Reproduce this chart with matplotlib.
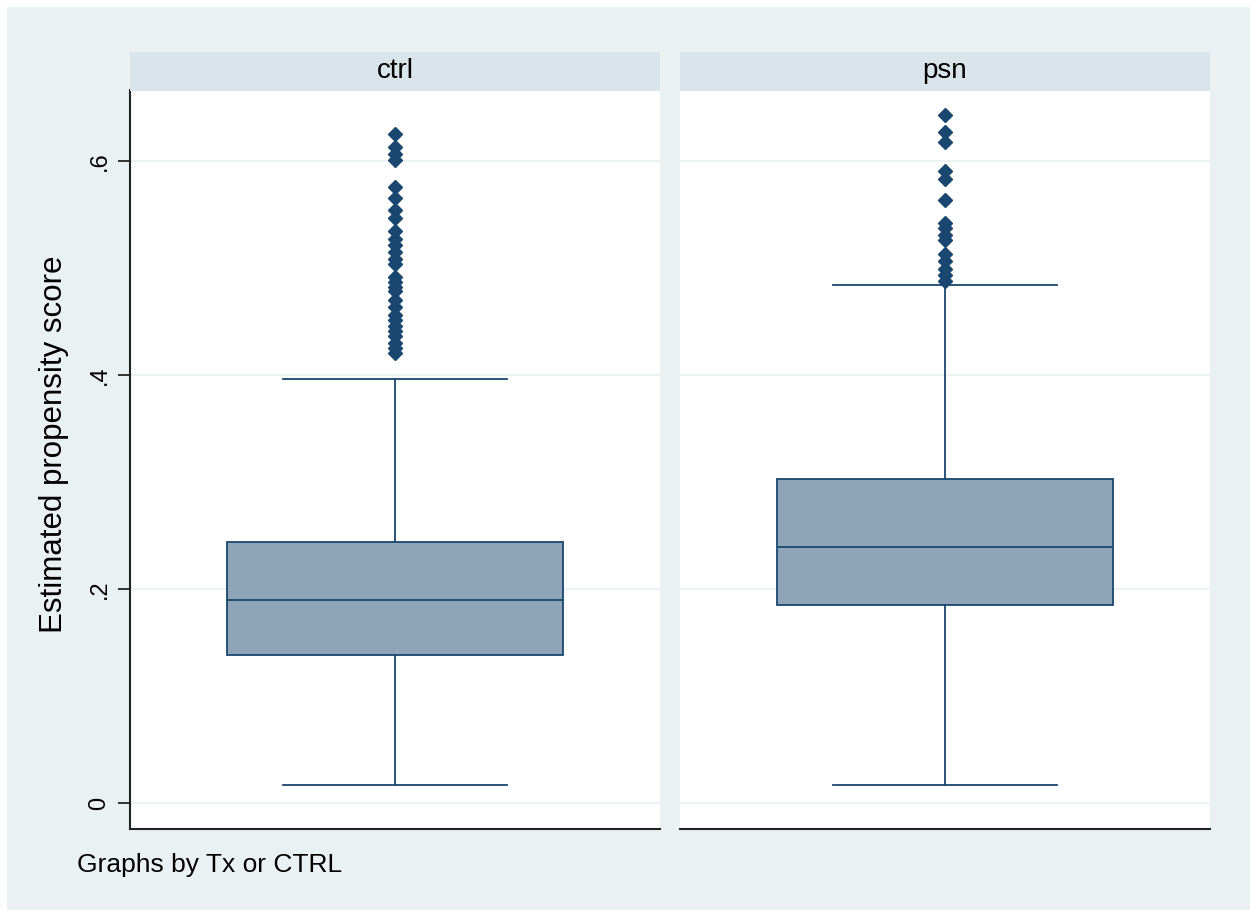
import matplotlib
matplotlib.use("Agg")
import matplotlib.pyplot as plt
from matplotlib.patches import Rectangle

plt.rcParams['font.family'] = ['Liberation Sans', 'DejaVu Sans']

# values
groups = ['ctrl', 'psn']
whisker_low = [0.017, 0.017]
q1 = [0.138, 0.185]
medians = [0.190, 0.239]
q3 = [0.244, 0.303]
whisker_high = [0.396, 0.484]
outliers_ctrl = [0.625, 0.613, 0.606, 0.601, 0.575, 0.565, 0.554, 0.546, 0.534,
                 0.527, 0.521, 0.515, 0.508, 0.503, 0.491, 0.487, 0.482, 0.478,
                 0.470, 0.463, 0.456, 0.451, 0.446, 0.441, 0.436, 0.430, 0.425,
                 0.420]
outliers_psn = [0.643, 0.627, 0.617, 0.590, 0.583, 0.563, 0.542, 0.537, 0.531,
                0.526, 0.513, 0.506, 0.499, 0.493, 0.488]
outliers = [outliers_ctrl, outliers_psn]
yticks = [0, 0.2, 0.4, 0.6]
ytick_labels = ['0', '.2', '.4', '.6']

bg = '#EAF1F3'
strip_col = '#D9E5EB'
navy = '#1A476F'
box_fill = '#8EA4B9'

fig = plt.figure(figsize=(12.5, 9.11), dpi=100)
fig.patch.set_facecolor('white')
fig.patches.append(Rectangle((7 / 1250, 0.0011), 1 - 7 / 1250, 1 - 7 / 911 - 0.0011,
                             transform=fig.transFigure, facecolor=bg,
                             edgecolor='none', zorder=-10))

ax_bottom = 1 - 829 / 911
ax_height = (829 - 90) / 911
panels = [(130, 660), (680, 1210)]

for i, (x0, x1) in enumerate(panels):
    ax = fig.add_axes([x0 / 1250, ax_bottom, (x1 - x0) / 1250, ax_height])
    ax.set_facecolor('white')
    stats = [dict(whislo=whisker_low[i], q1=q1[i], med=medians[i], q3=q3[i],
                  whishi=whisker_high[i], fliers=outliers[i])]
    ax.bxp(stats, positions=[0], widths=0.634, patch_artist=True,
           showcaps=True,
           boxprops=dict(facecolor=box_fill, edgecolor=navy, linewidth=1.3),
           medianprops=dict(color=navy, linewidth=1.3),
           whiskerprops=dict(color=navy, linewidth=1.3),
           capprops=dict(color=navy, linewidth=1.3),
           flierprops=dict(marker='D', markersize=7, markerfacecolor=navy,
                           markeredgecolor=navy, linestyle='none'),
           zorder=3)
    # caps width
    for line in ax.lines:
        xd = line.get_xdata()
        if len(xd) == 2 and xd[0] != xd[1] and abs(xd[1] - xd[0]) < 0.5 \
                and line.get_ydata()[0] in (whisker_low[i], whisker_high[i]):
            line.set_xdata([-0.211, 0.211])
    ax.set_xlim(-0.5, 0.5)
    ax.set_ylim(-0.0243, 0.666)
    ax.set_xticks([])
    ax.set_yticks(yticks)
    ax.yaxis.grid(True, color='#EAF2F3', linewidth=1.5)
    ax.set_axisbelow(True)
    for s in ['top', 'right']:
        ax.spines[s].set_visible(False)
    ax.spines['bottom'].set_linewidth(1.5)
    ax.spines['bottom'].set_color('#222222')
    if i == 0:
        ax.spines['left'].set_linewidth(1.5)
        ax.spines['left'].set_color('#222222')
        ax.set_yticklabels(ytick_labels, rotation=90, va='center', fontsize=17)
        ax.tick_params(axis='y', length=9, width=1.3, pad=5, color='#222222')
        ax.set_ylabel('Estimated propensity score', fontsize=22.5)
        ax.yaxis.set_label_coords(-61 / 530, 0.52)
    else:
        ax.spines['left'].set_visible(False)
        ax.tick_params(axis='y', length=0, labelleft=False)

    # strip header
    sax = fig.add_axes([x0 / 1250, 1 - 90.5 / 911, (x1 - x0) / 1250, 39 / 911])
    sax.set_facecolor(strip_col)
    sax.set_xticks([])
    sax.set_yticks([])
    for s in sax.spines.values():
        s.set_visible(False)
    sax.text(0.5, 0.5, groups[i], ha='center', va='center', fontsize=20,
             transform=sax.transAxes)

fig.text(77 / 1250, 1 - 865 / 911, 'Graphs by Tx or CTRL', fontsize=19,
         ha='left', va='center')

fig.savefig('out.png', dpi=100, facecolor=fig.get_facecolor())
